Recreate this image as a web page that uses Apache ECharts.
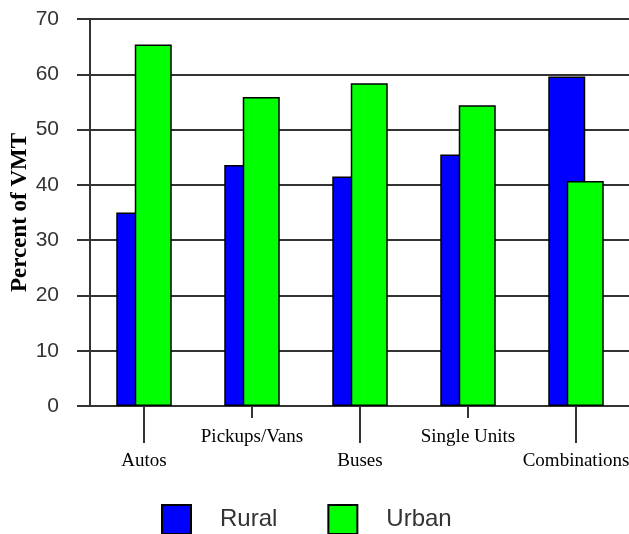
<!DOCTYPE html>
<html>
<head>
<meta charset="utf-8">
<script src="https://cdn.jsdelivr.net/npm/echarts@6/dist/echarts.min.js"></script>
<style>html,body{margin:0;padding:0;background:#fff}#c{width:629px;height:534px}</style>
</head>
<body>
<div id="c"></div>
<script>
const categories = ['Autos', 'Pickups/Vans', 'Buses', 'Single Units', 'Combinations'];
const rural = [35.0, 43.6, 41.5, 45.5, 59.6];
const urban = [65.4, 55.9, 58.4, 54.4, 40.7];
const yTicks = [0, 10, 20, 30, 40, 50, 60, 70];

const chart = echarts.init(document.getElementById('c'));
const lineCol = '#333';
chart.setOption({
  animation: false,
  backgroundColor: '#fff',
  grid: {left: 90, right: -1, top: 19, bottom: 128, containLabel: false, outerBoundsMode: 'none'},
  legend: {
    left: 156, top: 499,
    icon: 'rect',
    itemWidth: 29, itemHeight: 29, itemGap: 50,
    textStyle: {fontFamily: 'Liberation Sans', fontSize: 24, lineHeight: 29, color: '#333', padding: [0, 0, 0, 24]},
    itemStyle: {borderColor: '#000', borderWidth: 2},
    data: ['Rural', 'Urban']
  },
  xAxis: [{
    type: 'category', data: categories, position: 'bottom',
    axisLine: {show: true, lineStyle: {color: lineCol, width: 2}},
    axisTick: {show: true, alignWithLabel: true, length: 37, lineStyle: {color: lineCol, width: 2},
      interval: (i) => i % 2 === 0},
    axisLabel: {interval: (i) => i % 2 === 0, margin: 46, fontFamily: 'Liberation Serif', fontSize: 19, color: '#000'},
    splitLine: {show: false}
  }, {
    type: 'category', data: categories, position: 'bottom', gridIndex: 0,
    axisLine: {show: false},
    axisTick: {show: true, alignWithLabel: true, length: 12, lineStyle: {color: lineCol, width: 2},
      interval: (i) => i % 2 === 1},
    axisLabel: {interval: (i) => i % 2 === 1, margin: 22, fontFamily: 'Liberation Serif', fontSize: 19, color: '#000'},
    splitLine: {show: false}
  }],
  yAxis: {
    type: 'value', min: yTicks[0], max: yTicks[yTicks.length - 1], interval: 10,
    name: 'Percent of VMT', nameLocation: 'middle', nameGap: 58, nameRotate: 90, nameMoveOverlap: false,
    nameTextStyle: {fontFamily: 'Liberation Serif', fontWeight: 'bold', fontSize: 23, color: '#000'},
    axisLine: {show: true, lineStyle: {color: lineCol, width: 2}},
    axisTick: {show: true, length: 13, lineStyle: {color: lineCol, width: 2}},
    axisLabel: {fontFamily: 'Liberation Sans', fontSize: 21, color: '#333', margin: 31},
    splitLine: {show: true, lineStyle: {color: lineCol, width: 2}}
  },
  series: [{
    name: 'Rural', type: 'bar', data: rural, barWidth: 37, barGap: '-50%',
    itemStyle: {color: '#0000FF', borderColor: '#000', borderWidth: 1.5}
  }, {
    name: 'Urban', type: 'bar', data: urban, barWidth: 37, barGap: '-50%',
    itemStyle: {color: '#00FF00', borderColor: '#000', borderWidth: 1.5}
  }]
});
</script>
</body>
</html>
